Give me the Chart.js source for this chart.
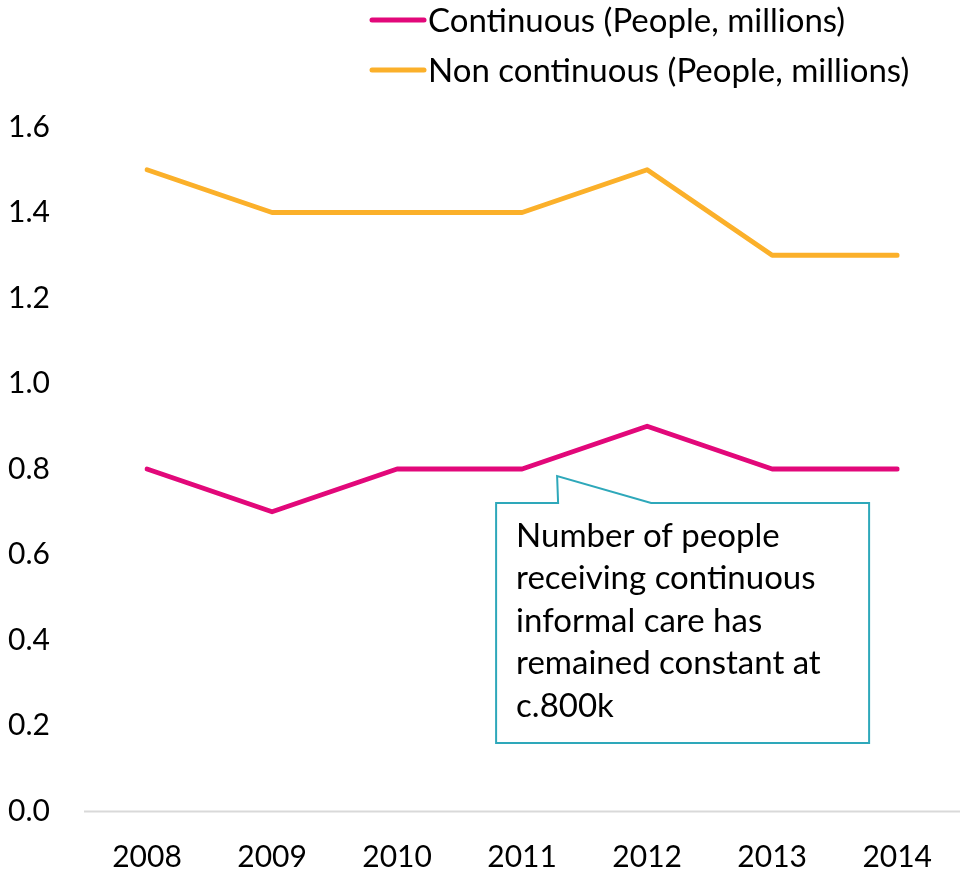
<!DOCTYPE html>
<html>
<head>
<meta charset="utf-8">
<script src="https://cdn.jsdelivr.net/npm/chart.js@4/dist/chart.umd.min.js"></script>
<style>
  html, body { margin: 0; padding: 0; background: #ffffff; }
  #wrap { width: 960px; height: 873px; position: relative; }
</style>
</head>
<body>
<div id="wrap"><canvas id="c" width="960" height="873"></canvas></div>
<script>
// Years on the horizontal axis
const years = ['2008', '2009', '2010', '2011', '2012', '2013', '2014'];
// People receiving informal care, millions
const continuous = [0.8, 0.7, 0.8, 0.8, 0.9, 0.8, 0.8];
const nonContinuous = [1.5, 1.4, 1.4, 1.4, 1.5, 1.3, 1.3];
// Series names
const seriesNames = ['Continuous (People, millions)', 'Non continuous (People, millions)'];
// Callout text
const noteLines = [
  'Number of people',
  'receiving continuous',
  'informal care has',
  'remained constant at',
  'c.800k'
];

const FONT = 'Lato, "Open Sans", sans-serif';
const PINK = '#E2087A';
const ORANGE = '#FBB02A';
const TEAL = '#2EA8BA';

// Two stacked legend rows, left-aligned with one another
const stackedLegend = {
  id: 'stackedLegend',
  afterDraw(chart) {
    const ctx = chart.ctx;
    ctx.save();
    ctx.font = '33px ' + FONT;
    ctx.textBaseline = 'middle';
    ctx.textAlign = 'left';
    chart.data.datasets.forEach((ds, i) => {
      const y = 20 + i * 50;
      ctx.strokeStyle = ds.borderColor;
      ctx.lineWidth = 5;
      ctx.lineCap = 'round';
      ctx.beginPath();
      ctx.moveTo(372, y);
      ctx.lineTo(424, y);
      ctx.stroke();
      ctx.fillStyle = '#000000';
      ctx.fillText(ds.label, 428, y + 1);
    });
    ctx.restore();
  }
};

// Light baseline at zero, running from the plot's left edge to the right border
const zeroLine = {
  id: 'zeroLine',
  beforeDatasetsDraw(chart) {
    const ctx = chart.ctx;
    const y = Math.round(chart.scales.y.getPixelForValue(0)) + 0.5;
    ctx.save();
    ctx.strokeStyle = '#D9D9D9';
    ctx.lineWidth = 2;
    ctx.beginPath();
    ctx.moveTo(84, y);
    ctx.lineTo(960, y);
    ctx.stroke();
    ctx.restore();
  }
};

// Speech-bubble note pointing at the continuous line
const callout = {
  id: 'callout',
  afterDraw(chart) {
    const xs = chart.scales.x, ys = chart.scales.y;
    const x3 = xs.getPixelForValue(3), x4 = xs.getPixelForValue(4);
    const tipX = x3 + (x4 - x3) * 0.28;
    const tipY = ys.getPixelForValue(0.8) + 7;
    const left = tipX - 61, top = tipY + 27;
    const right = left + 373, bottom = top + 240;
    const ctx = chart.ctx;
    ctx.save();
    ctx.fillStyle = '#ffffff';
    ctx.strokeStyle = TEAL;
    ctx.lineWidth = 2;
    ctx.lineJoin = 'miter';
    ctx.beginPath();
    ctx.moveTo(left, top);
    ctx.lineTo(tipX + 1, top);
    ctx.lineTo(tipX, tipY);
    ctx.lineTo(tipX + 94, top);
    ctx.lineTo(right, top);
    ctx.lineTo(right, bottom);
    ctx.lineTo(left, bottom);
    ctx.closePath();
    ctx.fill();
    ctx.stroke();
    ctx.fillStyle = '#000000';
    ctx.font = '33px ' + FONT;
    ctx.textAlign = 'left';
    ctx.textBaseline = 'middle';
    noteLines.forEach((t, i) => {
      ctx.fillText(t, left + 20, top + 33 + i * 42.5);
    });
    ctx.restore();
  }
};

new Chart(document.getElementById('c'), {
  type: 'line',
  data: {
    labels: years,
    datasets: [
      {
        label: seriesNames[0],
        data: continuous,
        borderColor: PINK,
        backgroundColor: PINK,
        borderWidth: 5,
        pointRadius: 0,
        tension: 0,
        borderCapStyle: 'round',
        borderJoinStyle: 'round'
      },
      {
        label: seriesNames[1],
        data: nonContinuous,
        borderColor: ORANGE,
        backgroundColor: ORANGE,
        borderWidth: 5,
        pointRadius: 0,
        tension: 0,
        borderCapStyle: 'round',
        borderJoinStyle: 'round'
      }
    ]
  },
  options: {
    responsive: false,
    animation: false,
    layout: { padding: { left: 8, right: 60, top: 127, bottom: 0 } },
    plugins: {
      legend: { display: false },
      tooltip: { enabled: false }
    },
    scales: {
      x: {
        offset: false,
        grid: { display: false, drawTicks: false },
        border: { display: false },
        ticks: {
          color: '#000000',
          font: { family: FONT, size: 30 },
          padding: 28,
          maxRotation: 0,
          autoSkip: false
        },
        afterFit(scale) { scale.height = 62; }
      },
      y: {
        min: 0,
        max: 1.6,
        grid: { display: false, drawTicks: false },
        border: { display: false },
        ticks: {
          stepSize: 0.2,
          color: '#000000',
          crossAlign: 'far',
          font: { family: FONT, size: 30 },
          callback: (v) => Number(v).toFixed(1)
        },
        afterFit(scale) { scale.width = 139; }
      }
    }
  },
  plugins: [zeroLine, callout, stackedLegend]
});
</script>
</body>
</html>
